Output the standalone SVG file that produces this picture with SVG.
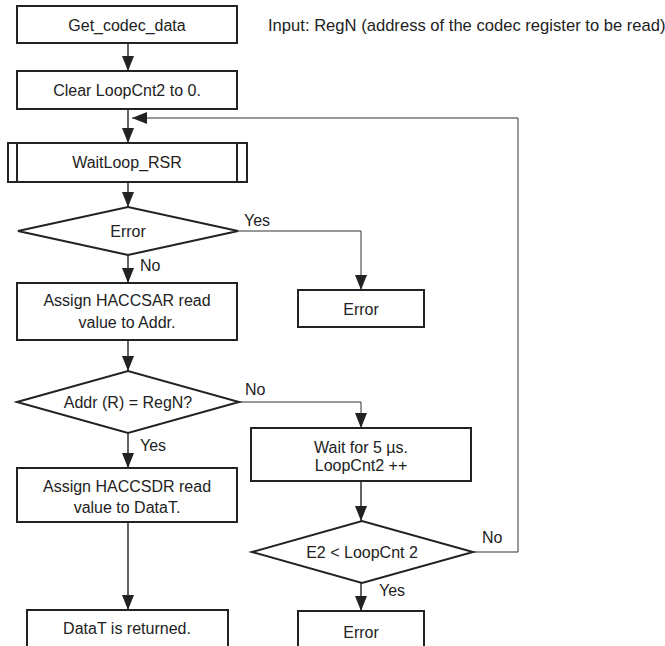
<svg xmlns="http://www.w3.org/2000/svg" width="665" height="646" viewBox="0 0 665 646">
<style>
  .box{fill:#fff;stroke:#222;stroke-width:2}
  .t{font-family:"Liberation Sans",Arial,sans-serif;font-size:16px;fill:#222;text-anchor:middle}
  .l{font-family:"Liberation Sans",Arial,sans-serif;font-size:16px;fill:#222}
  .c{fill:none;stroke:#222;stroke-width:1.4}
  .c2{fill:none;stroke:#333;stroke-width:1}
</style>
<defs>
  <marker id="ah" markerUnits="userSpaceOnUse" markerWidth="15" markerHeight="12" refX="15" refY="6" orient="auto">
    <path d="M0,0 L15,6 L0,12 z" fill="#222"/>
  </marker>
</defs>
<rect width="665" height="646" fill="#fff"/>
<g id="connectors">
  <path class="c" d="M128,43 V71" marker-end="url(#ah)"/>
  <path class="c" d="M128,109 V143" marker-end="url(#ah)"/>
  <path class="c2" d="M473,552 H518 V118 H132" marker-end="url(#ah)"/>
  <path class="c" d="M128,182 V207" marker-end="url(#ah)"/>
  <path class="c2" d="M238,231 H361 V290" marker-end="url(#ah)"/>
  <path class="c" d="M128,255 V283" marker-end="url(#ah)"/>
  <path class="c" d="M128,340 V371" marker-end="url(#ah)"/>
  <path class="c2" d="M239,402 H361 V428" marker-end="url(#ah)"/>
  <path class="c" d="M128,433 V468" marker-end="url(#ah)"/>
  <path class="c" d="M128,522 V610" marker-end="url(#ah)"/>
  <path class="c" d="M361,481 V521" marker-end="url(#ah)"/>
  <path class="c" d="M361,583 V611" marker-end="url(#ah)"/>
  <text class="l" x="244" y="226">Yes</text>
  <text class="l" x="140" y="271">No</text>
  <text class="l" x="245" y="395">No</text>
  <text class="l" x="140" y="451">Yes</text>
  <text class="l" x="482" y="543">No</text>
  <text class="l" x="379" y="596">Yes</text>
</g>
<g id="start">
  <rect class="box" x="17" y="6" width="220" height="37"/>
  <text class="t" x="127" y="31">Get_codec_data</text>
</g>
<g id="input-note">
  <text class="l" x="268" y="31" style="font-size:16.6px">Input: RegN (address of the codec register to be read)</text>
</g>
<g id="clear">
  <rect class="box" x="17" y="71" width="220" height="38"/>
  <text class="t" x="127" y="96">Clear LoopCnt2 to 0.</text>
</g>
<g id="waitloop">
  <rect class="box" x="8" y="143" width="239" height="39"/>
  <line class="box" x1="17" y1="143" x2="17" y2="182"/>
  <line class="box" x1="237" y1="143" x2="237" y2="182"/>
  <text class="t" x="127" y="168">WaitLoop_RSR</text>
</g>
<g id="dec-error">
  <polygon class="box" points="18,231 128,207 238,231 128,255"/>
  <text class="t" x="128" y="237">Error</text>
</g>
<g id="error1">
  <rect class="box" x="298" y="290" width="126" height="37"/>
  <text class="t" x="361" y="315">Error</text>
</g>
<g id="assign-addr">
  <rect class="box" x="17" y="283" width="220" height="57"/>
  <text class="t" x="127" y="306">Assign HACCSAR read</text>
  <text class="t" x="127" y="328">value to Addr.</text>
</g>
<g id="dec-addr">
  <polygon class="box" points="17,402 128,371 239,402 128,433"/>
  <text class="t" x="128" y="408">Addr (R) = RegN?</text>
</g>
<g id="wait5">
  <rect class="box" x="251" y="428" width="220" height="53"/>
  <text class="t" x="361" y="453">Wait for 5 µs.</text>
  <text class="t" x="361" y="471">LoopCnt2 ++</text>
</g>
<g id="assign-data">
  <rect class="box" x="17" y="468" width="220" height="54"/>
  <text class="t" x="127" y="492">Assign HACCSDR read</text>
  <text class="t" x="127" y="513">value to DataT.</text>
</g>
<g id="dec-loop">
  <polygon class="box" points="252,552 362,521 473,552 362,583"/>
  <text class="t" x="362" y="558">E2 &lt; LoopCnt 2</text>
</g>
<g id="return">
  <rect class="box" x="27" y="610" width="201" height="50"/>
  <text class="t" x="127" y="634">DataT is returned.</text>
</g>
<g id="error2">
  <rect class="box" x="298" y="611" width="126" height="50"/>
  <text class="t" x="361" y="638">Error</text>
</g>
</svg>
